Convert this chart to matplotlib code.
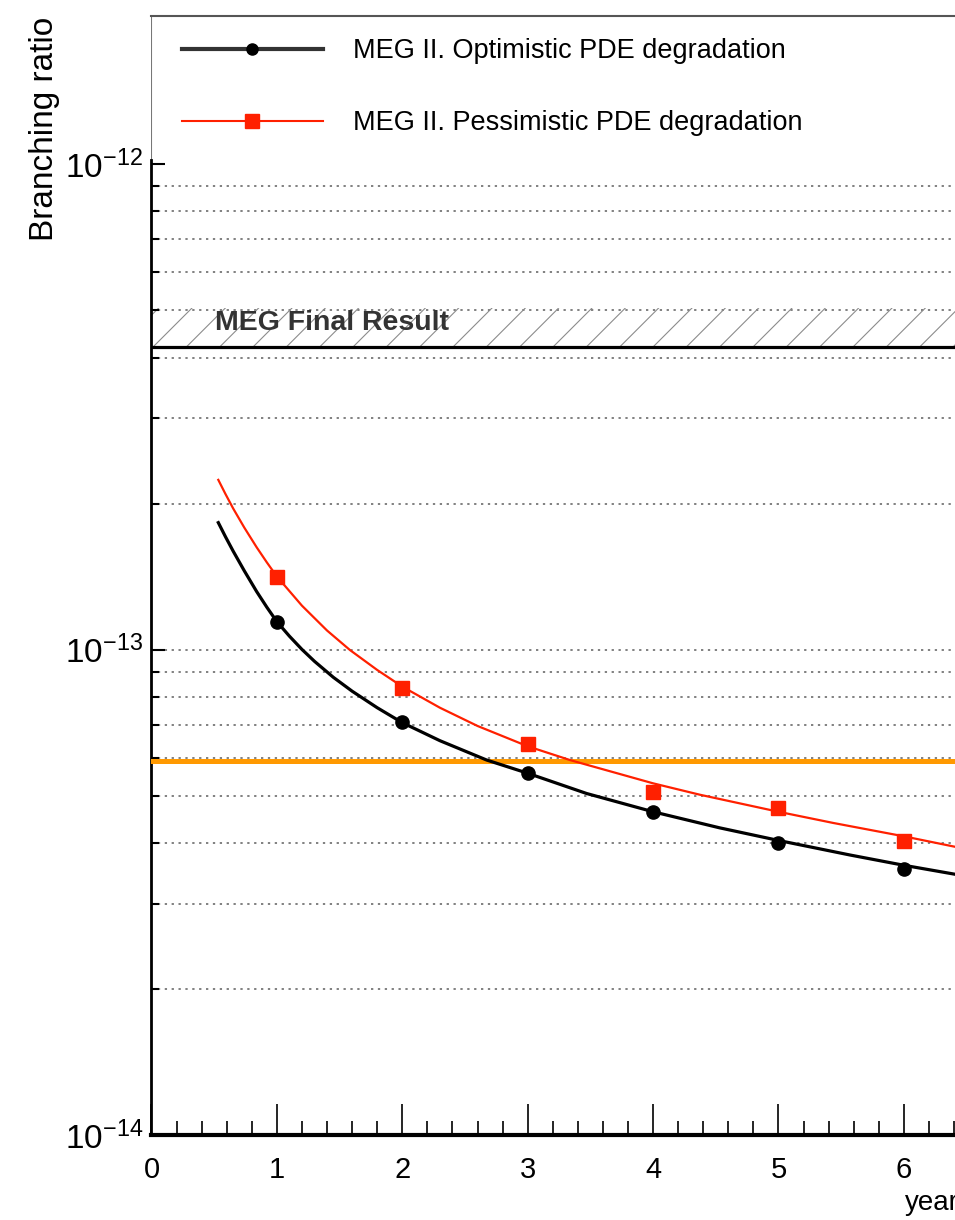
import matplotlib
matplotlib.use('Agg')
import matplotlib.pyplot as plt
from matplotlib.lines import Line2D
from matplotlib.ticker import FixedLocator, NullFormatter, FixedFormatter

plt.rcParams['font.family'] = ['Liberation Sans', 'DejaVu Sans']
plt.rcParams['mathtext.fontset'] = 'custom'
plt.rcParams['mathtext.rm'] = 'Liberation Sans'
plt.rcParams['mathtext.it'] = 'Liberation Sans:italic'
plt.rcParams['mathtext.bf'] = 'Liberation Sans:bold'
plt.rcParams['hatch.linewidth'] = 0.8

# ---------------- data ----------------
years = [1, 2, 3, 4, 5, 6]
optimistic_points = [1.143e-13, 7.11e-14, 5.58e-14, 4.63e-14, 4.01e-14, 3.53e-14]
pessimistic_points = [1.410e-13, 8.36e-14, 6.40e-14, 5.09e-14, 4.72e-14, 4.04e-14]

optimistic_curve_x = [0.533, 0.59, 0.652, 0.74, 0.839, 0.92, 1.0, 1.1, 1.2, 1.3,
                      1.45, 1.6, 1.8, 2.0, 2.3, 2.673, 3.0, 3.47, 4.0, 4.53,
                      5.0, 5.57, 6.0, 6.408]
optimistic_curve_y = [1.828e-13, 1.710e-13, 1.596e-13, 1.455e-13, 1.318e-13, 1.224e-13,
                      1.143e-13, 1.067e-13, 1.002e-13, 9.47e-14, 8.78e-14, 8.22e-14,
                      7.60e-14, 7.08e-14, 6.50e-14, 5.93e-14, 5.57e-14, 5.06e-14,
                      4.64e-14, 4.30e-14, 4.05e-14, 3.78e-14, 3.60e-14, 3.45e-14]

pessimistic_curve_x = [0.533, 0.59, 0.652, 0.74, 0.839, 0.92, 1.0, 1.2, 1.4, 1.583,
                       1.8, 2.0, 2.3, 2.6, 3.0, 3.337, 4.0, 4.374, 5.0, 5.437,
                       6.0, 6.408]
pessimistic_curve_y = [2.239e-13, 2.094e-13, 1.954e-13, 1.786e-13, 1.626e-13, 1.514e-13,
                       1.416e-13, 1.233e-13, 1.096e-13, 9.99e-14, 9.09e-14, 8.40e-14,
                       7.60e-14, 6.97e-14, 6.33e-14, 5.93e-14, 5.31e-14, 5.03e-14,
                       4.64e-14, 4.40e-14, 4.13e-14, 3.93e-14]

meg_final = 4.2e-13
meg_band_top = 5.06e-13
meg2_target = 5.9e-14

series_labels = ['MEG II. Optimistic PDE degradation',
                 'MEG II. Pessimistic PDE degradation']
band_label = 'MEG Final Result'
x_title = 'years'
y_title = 'Branching ratio'
x_major = [0, 1, 2, 3, 4, 5, 6]
y_major = [1e-14, 1e-13, 1e-12]
y_major_labels = [r'$10^{-14}$', r'$10^{-13}$', r'$10^{-12}$']
grid_values = [m * 10.0 ** e for e in (-14, -13) for m in range(1, 10)][1:]

# ---------------- figure ----------------
fig = plt.figure(figsize=(9.55, 12.2), dpi=100)
ax = fig.add_axes([0.1586, 0.06934, 0.9192, 0.91754])
ax.set_yscale('log')
ax.set_xlim(0, 7)
ax.set_ylim(1e-14, 2.02e-12)

# grid lines
for g in grid_values:
    ax.axhline(g, color='#5e5e5e', lw=1.1, ls=(0, (1.5, 3.0)), zorder=1)

# MEG final result band + line
ax.fill_between([0, 7], [meg_final, meg_final], [meg_band_top, meg_band_top],
                facecolor='none', edgecolor='#8c8c8c', hatch='/', lw=0, zorder=1)
ax.axhline(meg_final, color='black', lw=2.3, zorder=3)
ax.text(0.506, 4.71e-13, band_label, fontsize=20.5, fontweight='bold',
        color='#333333', va='center', ha='left', zorder=4)

# MEG II target
ax.axhline(meg2_target, color='#ff9900', lw=3.6, zorder=3)

# curves
ax.plot(optimistic_curve_x, optimistic_curve_y, color='black', lw=2.3, zorder=4,
        solid_joinstyle='round')
ax.plot(pessimistic_curve_x, pessimistic_curve_y, color='#ff2000', lw=1.6, zorder=4,
        solid_joinstyle='round')
ax.plot(years, optimistic_points, ls='none', marker='o', ms=9.5,
        color='black', zorder=5)
ax.plot(years, pessimistic_points, ls='none', marker='s', ms=9.5,
        color='#ff2000', zorder=5)

# legend
handles = [Line2D([], [], color='#333333', lw=3.0, marker='o', ms=8,
                  mfc='black', mec='black'),
           Line2D([], [], color='#ff2000', lw=1.5, marker='s', ms=9.5,
                  mfc='#ff2000', mec='#ff2000')]
ax.legend(handles, series_labels, loc='upper left',
          bbox_to_anchor=(182 / 955, 1 - 38 / 1220), bbox_transform=fig.transFigure,
          frameon=False, fontsize=19.5, handlelength=5.2, handletextpad=1.1,
          labelspacing=1.7, borderpad=0, borderaxespad=0, numpoints=1)

# spines
ax.spines['top'].set_color('#555555')
ax.spines['top'].set_linewidth(1.5)
ax.spines['left'].set_linewidth(2.0)
ax.spines['left'].set_bounds(1e-14, 1.02e-12)
ax.axvline(0, ymin=0.85, ymax=1.0, color='#777777', lw=1.5, zorder=0)
ax.spines['bottom'].set_linewidth(3.0)

# x ticks
ax.xaxis.set_major_locator(FixedLocator(x_major))
ax.xaxis.set_minor_locator(FixedLocator([i * 0.2 for i in range(36) if i % 5]))
ax.tick_params(axis='x', which='major', direction='in', length=22, width=1.2,
               labelsize=21, pad=15, top=False)
ax.tick_params(axis='x', which='minor', direction='in', length=10, width=1.2, top=False)

# y ticks
ax.yaxis.set_major_locator(FixedLocator(y_major))
ax.yaxis.set_major_formatter(FixedFormatter(y_major_labels))
ax.yaxis.set_minor_locator(FixedLocator(grid_values))
ax.yaxis.set_minor_formatter(NullFormatter())
ax.tick_params(axis='y', which='major', direction='in', length=10, width=1.5,
               labelsize=24, pad=6, right=False)
ax.tick_params(axis='y', which='minor', direction='in', length=6, width=1.5, right=False)

# axis titles
ax.set_xlabel(x_title, fontsize=20, ha='left', va='top')
ax.xaxis.set_label_coords((905 - 151.5) / 877.8, (1135.4 - 1190) / 1119.4)
ax.set_ylabel(y_title, fontsize=24, loc='top')
ax.yaxis.set_label_coords(-0.104, 0.999)

fig.savefig('out.png', dpi=100)
